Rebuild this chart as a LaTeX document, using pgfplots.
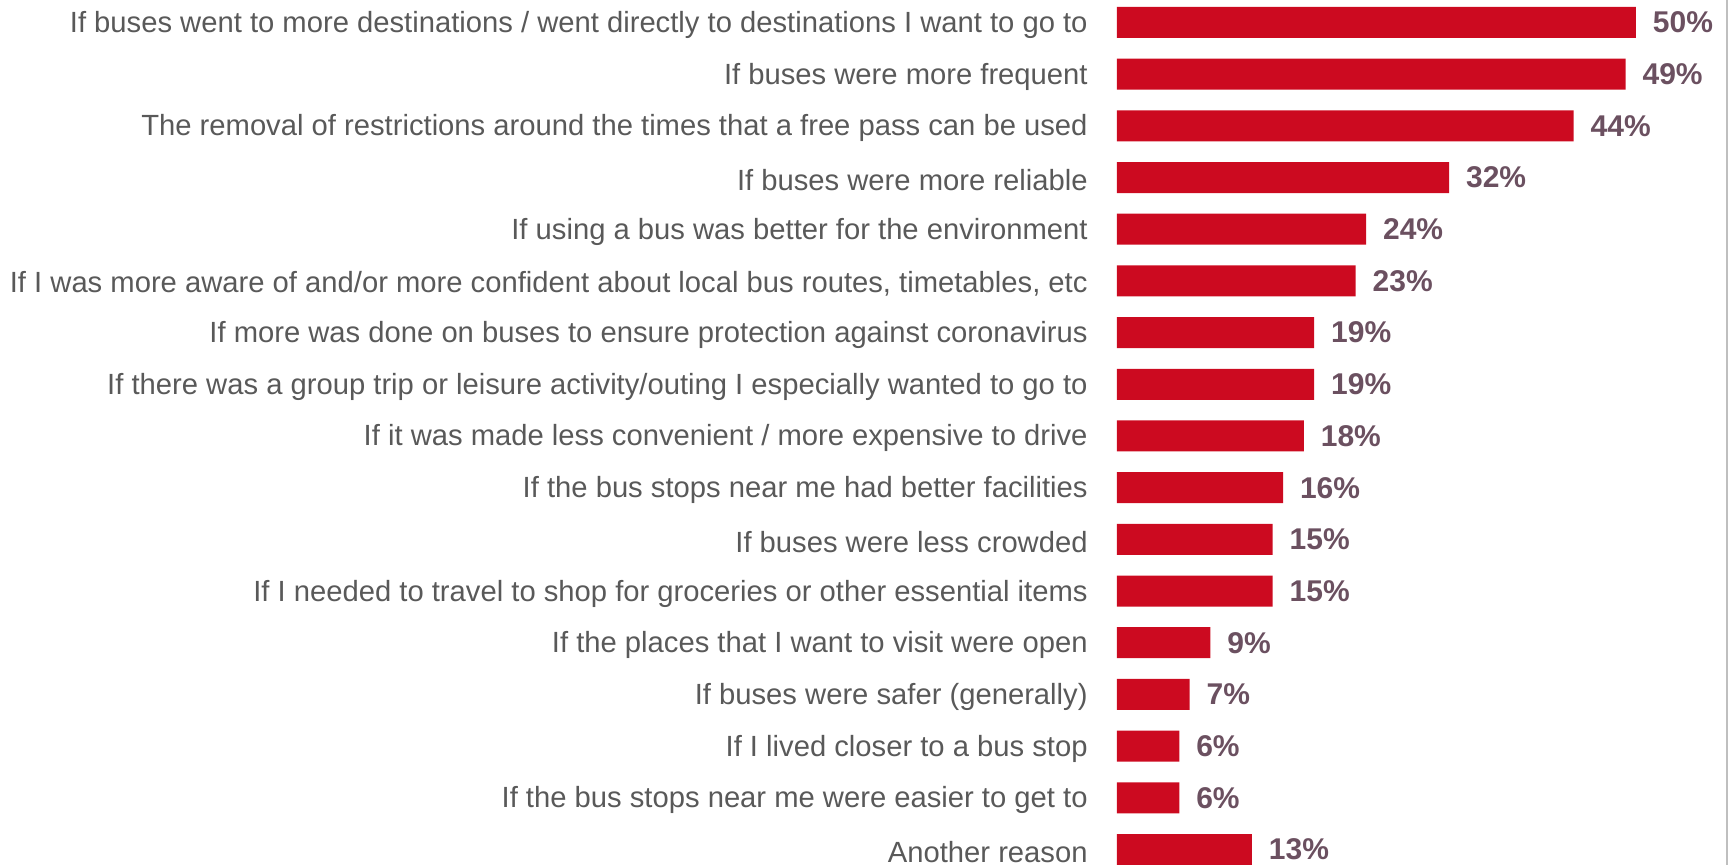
\documentclass[border=0pt]{standalone}
\usepackage{fontspec}
\setmainfont{Liberation Sans}
\usepackage{pgfplots}
\pgfplotsset{compat=1.18}
\definecolor{barred}{HTML}{CC0A20}
\definecolor{valcol}{HTML}{6B5060}
\definecolor{labgray}{HTML}{595959}
\definecolor{bordergray}{HTML}{BFBFBF}
\begin{document}
\begin{tikzpicture}
\begin{axis}[
  name=ax,
  scale only axis,
  width=305pt, height=432.5pt,
  xbar, bar width=15.5pt,
  xmin=0, xmax=58.77,
  ymin=-0.435, ymax=16.3,
  y dir=reverse,
  axis line style={draw=none},
  xtick=\empty,
  ytick={0,...,16},
  major tick length=0pt,
  /pgf/number format/assume math mode=true,
  yticklabels={
    If buses went to more destinations / went directly to destinations I want to go to,
    If buses were more frequent,
    The removal of restrictions around the times that a free pass can be used,
    If buses were more reliable,
    If using a bus was better for the environment,
    {If I was more aware of and/or more confident about local bus routes, timetables, etc},
    If more was done on buses to ensure protection against coronavirus,
    If there was a group trip or leisure activity/outing I especially wanted to go to,
    If it was made less convenient / more expensive to drive,
    If the bus stops near me had better facilities,
    If buses were less crowded,
    If I needed to travel to shop for groceries or other essential items,
    If the places that I want to visit were open,
    If buses were safer (generally),
    If I lived closer to a bus stop,
    If the bus stops near me were easier to get to,
    Another reason},
  yticklabel style={font=\fontsize{14.6}{17}\selectfont, text=labgray, anchor=east, inner sep=0pt, xshift=-14.5pt, yshift=-1.2pt},
  nodes near coords={\pgfmathprintnumber{\pgfplotspointmeta}\%},
  nodes near coords style={font=\fontsize{15}{17}\selectfont\bfseries, text=valcol, anchor=west, inner sep=0pt, xshift=8.3pt},
  point meta=x,
  clip=false,
]
\addplot[fill=barred, draw=none] coordinates {
  (50,0) (49,1) (44,2) (32,3) (24,4) (23,5) (19,6) (19,7) (18,8) (16,9)
  (15,10) (15,11) (9,12) (7,13) (6,14) (6,15) (13,16)
};
\draw[bordergray, line width=1.2pt] (rel axis cs:1,0) -- (rel axis cs:1,1);
\end{axis}
\pgfresetboundingbox
\path ([xshift=-558.5pt]ax.south west) rectangle ([xshift=2.5pt]ax.north east);
\end{tikzpicture}
\end{document}
